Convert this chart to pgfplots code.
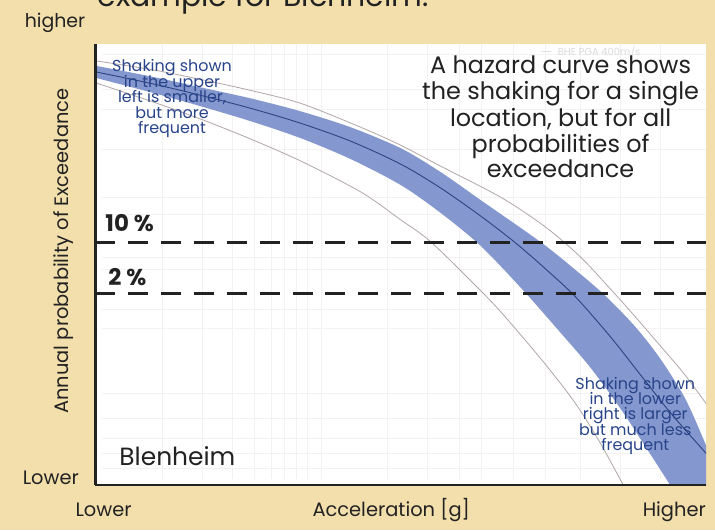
\documentclass[border=0pt]{standalone}
\usepackage{pgfplots}
\pgfplotsset{compat=1.18}
\usepackage{fontspec}
\setmainfont{Poppins}
\definecolor{bg}{RGB}{242,223,172}
\definecolor{bandc}{RGB}{132,151,206}
\definecolor{cline}{RGB}{45,66,128}
\definecolor{gline}{RGB}{178,166,166}
\definecolor{atext}{RGB}{40,68,138}
\definecolor{dtext}{RGB}{34,34,34}
\begin{document}
\pagecolor{bg}
\begin{tikzpicture}[x=1pt,y=1pt]
\path (0,0) rectangle (715,532);
\begin{axis}[at={(93,45)}, anchor=south west, scale only axis,
  width=613pt, height=443pt,
  xmin=93, xmax=706, ymin=-487, ymax=-44,
  axis lines=left, axis line style={-, line width=2.6pt, dtext},
  axis background/.style={fill=white}, axis on top,
  xtick=\empty, ytick=\empty]
\pgfplotsinvokeforeach{160,200,230,253,270,283,295,306,320,386,426,458,480,513,545,580,620,660}{
  \draw[black!5, line width=0.6pt] (axis cs:#1,-481) -- (axis cs:#1,-44);}
\pgfplotsinvokeforeach{-470,-455,-440,-420,-395,-330,-310,-270,-258,-215,-198,-150,-110,-90,-55}{
  \draw[black!5, line width=0.6pt] (axis cs:100,#1) -- (axis cs:706,#1);}
% band: upper edge, then lower edge in reverse
\addplot[fill=bandc, draw=none, smooth] coordinates {(85,-65) (93,-66) (150,-77) (200,-88) (250,-99) (300,-112) (350,-128) (400,-149) (440,-173) (480,-201) (540,-243) (575,-271) (605,-297) (635,-328) (660,-360) (685,-400) (706,-447) (724,-492)
 (680,-505) (670,-487) (645,-448) (620,-410) (590,-369) (560,-334) (523,-292) (480,-247) (440,-214) (400,-186) (350,-160) (300,-139) (250,-122) (200,-107) (150,-93) (93,-78) (85,-76)};
\addplot[gline, line width=0.8pt, smooth] coordinates {(85,-60) (93,-61) (150,-70) (200,-80) (250,-91) (300,-104) (360,-128) (400,-146) (440,-167) (500,-198) (545,-228) (580,-258) (610,-290) (635,-318) (660,-347) (683,-374) (706,-405) (720,-425)};
\addplot[gline, line width=0.8pt, smooth] coordinates {(85,-80) (93,-83) (150,-102) (200,-120) (250,-140) (300,-162) (360,-193) (400,-221) (430,-243) (483,-295) (507,-321) (545,-366) (575,-405) (600,-445) (623,-487) (630,-500)};
\addplot[cline, line width=0.9pt, smooth] coordinates {(85,-70) (93,-72) (150,-84) (200,-96) (250,-109) (300,-124) (350,-142) (400,-165) (440,-189) (480,-217) (515,-244) (545,-270) (575,-298) (610,-338) (640,-376) (670,-414) (706,-455) (720,-471)};
\addplot[dtext, line width=3pt, dash pattern=on 20pt off 13pt] coordinates {(93,-243) (706,-243)};
\addplot[dtext, line width=3pt, dash pattern=on 20pt off 13pt] coordinates {(93,-295) (706,-295)};
\end{axis}
% faint legend remnant
\draw[black!12, line width=0.8pt] (540,480) -- (550,480);
\node[anchor=base west, font=\fontsize{10}{12}\selectfont, text=black!14, inner sep=0] at (557,476) {BHE PGA 400m/s};
% title remnant
\node[anchor=base west, font=\fontsize{30}{33}\selectfont, text=dtext, inner sep=0] at (95,525) {example for Blenheim.};
% outside labels
\node[anchor=base west, font=\fontsize{19}{21}\selectfont, text=dtext, inner sep=0] at (22,504) {higher};
\node[anchor=base west, font=\fontsize{19.5}{21}\selectfont, text=dtext, inner sep=0] at (20,46) {Lower};
\node[anchor=base west, font=\fontsize{19.5}{21}\selectfont, text=dtext, inner sep=0] at (73,14) {Lower};
\node[anchor=base, font=\fontsize{19.5}{21}\selectfont, text=dtext, inner sep=0] at (390,14) {Acceleration [g]};
\node[anchor=base east, font=\fontsize{19.5}{21}\selectfont, text=dtext, inner sep=0] at (706,14) {Higher};
\node[rotate=90, anchor=base, font=\fontsize{19.5}{21}\selectfont, text=dtext, inner sep=0] at (66,280) {Annual probability of Exceedance};
% inside labels
\node[anchor=base west, font=\fontsize{25}{28}\selectfont, text=dtext, inner sep=0] at (117,65) {Blenheim};
\node[anchor=base west, font=\fontsize{23}{25}\selectfont\bfseries, text=dtext, inner sep=0] at (103,300) {10 \%};
\node[anchor=base west, font=\fontsize{23}{25}\selectfont\bfseries, text=dtext, inner sep=0] at (106,245) {2 \%};
% big annotation
\begin{scope}[every node/.style={anchor=base, font=\fontsize{24}{26}\selectfont, text=dtext, inner sep=0}]
\node at (560,458) {A hazard curve shows};
\node at (560,432) {the shaking for a single};
\node at (560,405) {location, but for all};
\node at (560,379) {probabilities of};
\node at (560,354) {exceedance};
\end{scope}
\begin{scope}[every node/.style={anchor=base, font=\fontsize{16}{18}\selectfont, text=atext, inner sep=0}]
\node at (170,460) {Shaking shown};
\node at (170,444.5) {in the upper};
\node at (170,429) {left is smaller,};
\node at (170,413.5) {but more};
\node at (170,398) {frequent};
\node at (635,141) {Shaking shown};
\node at (635,126) {in the lower};
\node at (635,111) {right is larger};
\node at (635,95) {but much less};
\node at (635,80) {frequent};
\end{scope}
\pgfresetboundingbox
\path[use as bounding box] (0,0) rectangle (715,532);
\end{tikzpicture}
\end{document}
